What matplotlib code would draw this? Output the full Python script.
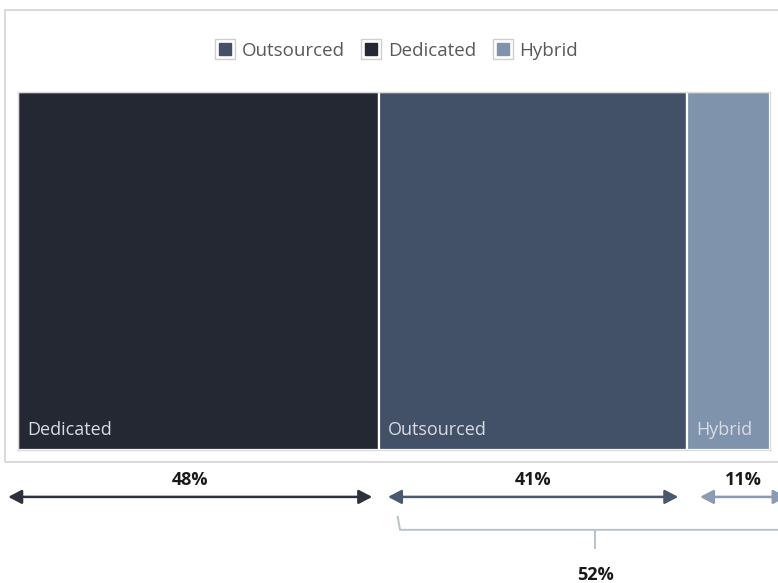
import matplotlib
matplotlib.use("Agg")
import matplotlib.pyplot as plt
from matplotlib.patches import Rectangle
from matplotlib.lines import Line2D
from matplotlib.legend_handler import HandlerTuple
import numpy as np

# ---- data ----
categories = ["Dedicated", "Outsourced", "Hybrid"]
shares = [48, 41, 11]
combined_label = "52%"
legend_order = ["Outsourced", "Dedicated", "Hybrid"]

# ---- style ----
colors = {"Dedicated": "#232833", "Outsourced": "#435168", "Hybrid": "#8093ad"}
arrow_colors = {"Dedicated": "#2b323e", "Outsourced": "#4b596f", "Hybrid": "#8a9bb3"}
arrow_nudge = [(-1.3, -0.9), (1.2, -1.2), (1.7, 2.2)]
font = "Open Sans"

W, H = 778, 583
fig = plt.figure(figsize=(W / 100, H / 100), dpi=100)
fig.patch.set_facecolor("white")

# outer frame
fig.patches.append(Rectangle((5 / W, 1 - 462 / H), 1.0, (462 - 10) / H,
                             transform=fig.transFigure, fill=False,
                             edgecolor="#d4d4d4", linewidth=1.2))

ax = fig.add_axes([18 / W, 1 - 450 / H, 752 / W, 358 / H])
ax.set_xlim(0, sum(shares))
ax.set_ylim(0, 1)
ax.set_xticks([])
ax.set_yticks([])
for s in ax.spines.values():
    s.set_edgecolor("#dcdcdc")
    s.set_linewidth(1.0)

starts = np.concatenate([[0], np.cumsum(shares)[:-1]])
for cat, x0, w in zip(categories, starts, shares):
    ax.add_patch(Rectangle((x0, 0), w, 1, facecolor=colors[cat],
                           edgecolor="white", linewidth=1.6))
    ax.text(x0 + 1.2, 0.055, cat, color="#d8dce3", fontsize=13,
            family=font, ha="left", va="center")

# arrows with percentage labels
tr = ax.get_xaxis_transform()
for (cat, x0, w), (n0, n1) in zip(zip(categories, starts, shares), arrow_nudge):
    a, b = x0 + n0, x0 + w + n1
    ax.annotate("", xy=(b, -0.131), xytext=(a, -0.131), xycoords=tr,
                textcoords=tr, annotation_clip=False,
                arrowprops=dict(arrowstyle="<|-|>,head_length=0.8,head_width=0.42",
                                color=arrow_colors[cat], lw=1.8,
                                shrinkA=0, shrinkB=0))
    ax.text((a + b) / 2, -0.084, f"{w}%", transform=tr, ha="center",
            va="center", fontsize=13, fontweight="bold", family=font,
            color="#1a1a1a", clip_on=False)

# bracket for Outsourced + Hybrid
b0 = starts[1] + 2.5
b1 = sum(shares) + 3
bc = (b0 + b1) / 2
bracket_color = "#b9c1cc"
ax.plot([b0, b0 + 0.3, b1], [-0.187, -0.223, -0.223], transform=tr,
        color=bracket_color, lw=1.4, clip_on=False)
ax.plot([bc, bc], [-0.223, -0.274], transform=tr, color=bracket_color,
        lw=1.4, clip_on=False)
ax.text(bc, -0.349, combined_label, transform=tr, ha="center", va="center",
        fontsize=13, fontweight="bold", family=font, color="#1a1a1a",
        clip_on=False)

# legend
handles = []
for cat in legend_order:
    outer = Line2D([], [], marker="s", ms=15, mfc="white", mec="#cfcfcf",
                   mew=1.0, ls="none")
    inner = Line2D([], [], marker="s", ms=9, mfc=colors[cat], mec=colors[cat],
                   ls="none")
    handles.append((outer, inner))
fig.legend(handles, legend_order, handler_map={tuple: HandlerTuple(ndivide=1)},
           loc="center", bbox_to_anchor=(397 / W, 1 - 51 / H), ncol=3,
           frameon=False, prop={"family": font, "size": 13.5},
           labelcolor="#595959", handlelength=1.0, handletextpad=0.4,
           columnspacing=0.9)

fig.savefig("out.png", dpi=100, facecolor="white")
